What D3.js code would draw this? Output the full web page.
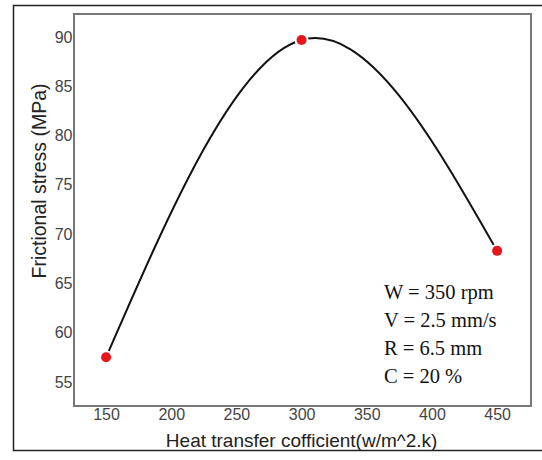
<!DOCTYPE html>
<html>
<head>
<meta charset="utf-8">
<script src="https://cdn.jsdelivr.net/npm/d3@7"></script>
<style>
  body { margin: 0; background: #fff; }
</style>
</head>
<body>
<div id="chart"></div>
<script>
// data
let heatCoeff = [150, 300, 450];
let fricStress = [57.5, 89.7, 68.3];
let xTicks = [150, 200, 250, 300, 350, 400, 450];
let yTicks = [55, 60, 65, 70, 75, 80, 85, 90];
let notes = ["W = 350 rpm", "V = 2.5 mm/s", "R = 6.5 mm", "C = 20 %"];

let fullWidth = 542, fullHeight = 460;
let margin = { top: 14, right: 11, bottom: 54, left: 74 };
let width = fullWidth - margin.left - margin.right;
let height = fullHeight - margin.top - margin.bottom;

let root = d3.select("#chart")
    .append("svg")
    .attr("width", fullWidth)
    .attr("height", fullHeight);

// outer frame
root.append("rect")
    .attr("x", 13.5)
    .attr("y", 5.5)
    .attr("width", 540)
    .attr("height", 445)
    .attr("fill", "none")
    .attr("stroke", "#222")
    .attr("stroke-width", 1.5);

let svg = root.append("g")
    .attr("transform", `translate(${margin.left},${margin.top})`);

let x = d3.scaleLinear().domain([125.4, 476]).range([0, width]);
let y = d3.scaleLinear().domain([52.56, 92.33]).range([height, 0]);

// plot box
svg.append("rect")
    .attr("width", width)
    .attr("height", height)
    .attr("fill", "none")
    .attr("stroke", "#777")
    .attr("stroke-width", 2);

// axes (labels only)
let xAxis = svg.append("g")
    .attr("transform", `translate(0,${height})`)
    .call(d3.axisBottom(x).tickValues(xTicks).tickSize(0).tickPadding(3));
xAxis.select(".domain").remove();
xAxis.selectAll("text")
    .style("font-family", "'Liberation Sans', Arial, sans-serif")
    .style("font-size", "16px")
    .style("fill", "#444");

let yAxis = svg.append("g")
    .call(d3.axisLeft(y).tickValues(yTicks).tickSize(0).tickPadding(1.5));
yAxis.select(".domain").remove();
yAxis.selectAll("text")
    .style("font-family", "'Liberation Sans', Arial, sans-serif")
    .style("font-size", "16px")
    .style("fill", "#444");

// axis titles
svg.append("text")
    .attr("x", x(300))
    .attr("y", 447 - margin.top)
    .attr("text-anchor", "middle")
    .style("font-family", "'Liberation Sans', Arial, sans-serif")
    .style("font-size", "19px")
    .style("fill", "#222")
    .text("Heat transfer cofficient(w/m^2.k)");

svg.append("text")
    .attr("transform", `translate(${46 - margin.left},${181 - margin.top}) rotate(-90)`)
    .attr("text-anchor", "middle")
    .style("font-family", "'Liberation Sans', Arial, sans-serif")
    .style("font-size", "19.5px")
    .style("fill", "#222")
    .text("Frictional stress (MPa)");

// curve
let pts = heatCoeff.map((h, i) => ({ h: h, s: fricStress[i] }));
let line = d3.line()
    .x(d => x(d.h))
    .y(d => y(d.s))
    .curve(d3.curveNatural);

svg.append("path")
    .datum(pts)
    .attr("d", line)
    .attr("fill", "none")
    .attr("stroke", "#111")
    .attr("stroke-width", 2);

// markers with white halo
svg.selectAll(".dot")
    .data(pts)
    .enter()
    .append("circle")
    .attr("class", "dot")
    .attr("cx", d => x(d.h))
    .attr("cy", d => y(d.s))
    .attr("r", 5)
    .attr("fill", "#e8141c")
    .attr("stroke", "#fff")
    .attr("stroke-width", 4)
    .attr("paint-order", "stroke");

// condition notes
svg.selectAll(".note")
    .data(notes)
    .enter()
    .append("text")
    .attr("class", "note")
    .attr("x", 384 - margin.left)
    .attr("y", (d, i) => 299 - margin.top + i * 28)
    .style("font-family", "'Liberation Serif', 'Times New Roman', serif")
    .style("font-size", "20.5px")
    .style("fill", "#111")
    .text(d => d);
</script>
</body>
</html>
